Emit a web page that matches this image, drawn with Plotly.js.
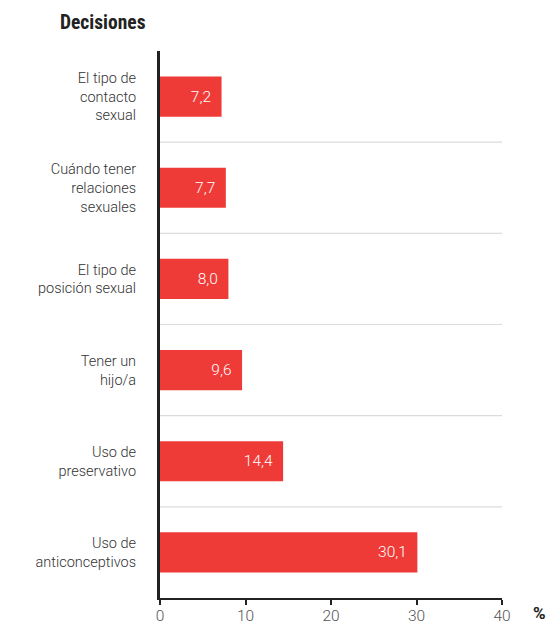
<!DOCTYPE html>
<html>
<head>
<meta charset="utf-8">
<script src="https://cdn.plot.ly/plotly-3.0.1.min.js"></script>
<style>html,body{margin:0;padding:0;background:#fff;}#chart{width:549px;height:625px;}</style>
</head>
<body>
<div id="chart"></div>
<script>
// Data (top to bottom)
const categories = [
  "El tipo de<br>contacto<br>sexual",
  "Cuándo tener<br>relaciones<br>sexuales",
  "El tipo de<br>posición sexual",
  "Tener un<br>hijo/a",
  "Uso de<br>preservativo",
  "Uso de<br>anticonceptivos"
];
const values = [7.2, 7.7, 8.0, 9.6, 14.4, 30.1];
const xTicks = [0, 10, 20, 30, 40];
const xTickLabels = ["0", "10", "20", "30", "40"];
const chartTitle = "Decisiones";
const unitLabel = "%";

const FONT = "Roboto, 'Liberation Sans', sans-serif";
const TITLE_FONT = "'Roboto Condensed', Roboto, 'Liberation Sans', sans-serif";
const labels = values.map(v => v.toFixed(1).replace('.', ',') + '\u00a0\u00a0');

const trace = {
  type: 'bar',
  orientation: 'h',
  x: values,
  y: categories,
  marker: {color: '#ee3b37'},
  text: labels,
  textposition: 'inside',
  insidetextanchor: 'end',
  textfont: {family: FONT, size: 15.5, weight: 300, color: '#ffffff'},
  hoverinfo: 'none',
  cliponaxis: false
};

const shapes = [];
for (let i = 0; i < categories.length - 1; i++) {
  shapes.push({
    type: 'line', xref: 'x', yref: 'y',
    x0: xTicks[0], x1: xTicks[xTicks.length - 1],
    y0: i + 0.5, y1: i + 0.5,
    line: {color: '#dcdcdc', width: 1.2},
    layer: 'below'
  });
}

const layout = {
  width: 549, height: 625,
  margin: {l: 160, r: 47, t: 51, b: 27},
  paper_bgcolor: '#ffffff', plot_bgcolor: '#ffffff',
  showlegend: false,
  bargap: 0.56,
  title: {
    text: '<b>' + chartTitle + '</b>',
    xref: 'container', yref: 'container',
    x: 60 / 549, xanchor: 'left',
    y: 1 - 22 / 625, yanchor: 'middle',
    font: {family: TITLE_FONT, size: 19.5, color: '#222222'}
  },
  xaxis: {
    range: [xTicks[0], xTicks[xTicks.length - 1]],
    tickmode: 'array', tickvals: xTicks, ticktext: xTickLabels,
    showgrid: false, zeroline: false,
    showline: true, linecolor: '#222222', linewidth: 2,
    ticks: 'outside', ticklen: 5, tickwidth: 2, tickcolor: '#222222',
    tickfont: {family: FONT, size: 15.5, weight: 300, color: '#555555'},
    ticklabelstandoff: -3,
    fixedrange: true
  },
  yaxis: {
    type: 'category',
    autorange: 'reversed',
    showgrid: false, zeroline: false,
    showline: true, linecolor: '#222222', linewidth: 3,
    ticks: '', ticklabelstandoff: 18,
    tickfont: {family: FONT, size: 14.5, weight: 300, color: '#333333'},
    fixedrange: true
  },
  shapes: shapes,
  annotations: [{
    text: '<b>' + unitLabel + '</b>',
    xref: 'paper', yref: 'paper',
    x: 1, y: 0, xanchor: 'left', yanchor: 'middle',
    xshift: 30, yshift: -15,
    borderpad: 0,
    showarrow: false,
    font: {family: FONT, size: 17, color: '#222222'}
  }]
};

Plotly.newPlot('chart', [trace], layout, {displayModeBar: false, staticPlot: true});
</script>
</body>
</html>
